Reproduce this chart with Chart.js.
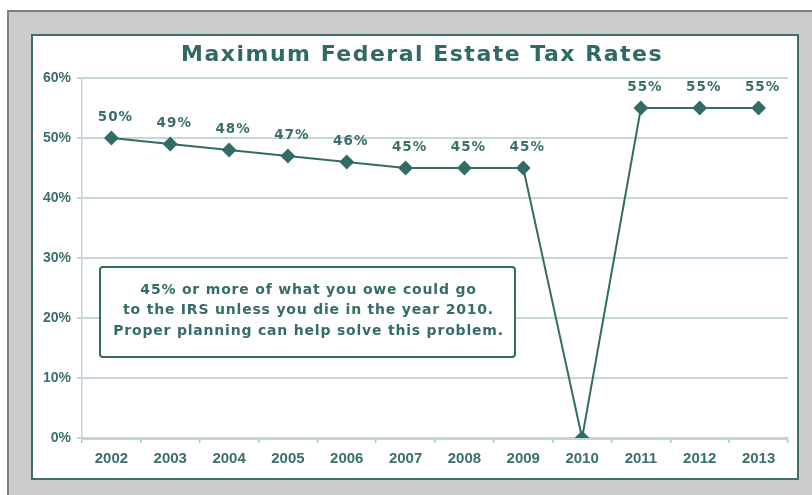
<!DOCTYPE html>
<html>
<head>
<meta charset="utf-8">
<script src="https://cdn.jsdelivr.net/npm/chart.js@4.4.1/dist/chart.umd.min.js"></script>
<style>
  html, body { margin: 0; padding: 0; background: #ffffff; }
  #wrap { width: 812px; height: 495px; position: relative; }
</style>
</head>
<body>
<div id="wrap"><canvas id="taxChart" width="812" height="495"></canvas></div>
<script>
const years = ['2002', '2003', '2004', '2005', '2006', '2007', '2008', '2009', '2010', '2011', '2012', '2013'];
const rates = [50, 49, 48, 47, 46, 45, 45, 45, 0, 55, 55, 55];
const yTicks = [0, 10, 20, 30, 40, 50, 60];
const chartTitle = 'Maximum Federal Estate Tax Rates';
const noteLines = [
    '45% or more of what you owe could go',
    'to the IRS unless you die in the year 2010.',
    'Proper planning can help solve this problem.'
];

const TEAL = '#336b67';
const FONT = "'Liberation Sans', Arial, sans-serif";
const WIDE = "'DejaVu Sans', Verdana, sans-serif";

// frame, title, value labels and the note box
const decorPlugin = {
    id: 'decor',
    beforeDraw(chart) {
        const ctx = chart.ctx;
        ctx.save();
        ctx.fillStyle = '#ffffff';
        ctx.fillRect(0, 0, 812, 495);
        // gray outer frame
        ctx.fillStyle = '#cccccc';
        ctx.fillRect(7, 10, 805, 485);
        ctx.strokeStyle = '#7f7f7f';
        ctx.lineWidth = 2;
        ctx.beginPath();
        ctx.moveTo(8, 495);
        ctx.lineTo(8, 11);
        ctx.lineTo(812, 11);
        ctx.stroke();
        // white panel
        ctx.fillStyle = '#ffffff';
        ctx.fillRect(32, 35, 766, 444);
        ctx.strokeStyle = '#3d706c';
        ctx.lineWidth = 2;
        ctx.strokeRect(32, 35, 766, 444);
        // title
        ctx.fillStyle = '#2f6a66';
        ctx.font = 'bold 22px ' + WIDE;
        ctx.letterSpacing = '1.5px';
        ctx.textAlign = 'center';
        ctx.textBaseline = 'middle';
        ctx.fillText(chartTitle, 422, 55);
        ctx.restore();
    },
    afterDatasetsDraw(chart) {
        const ctx = chart.ctx;
        const meta = chart.getDatasetMeta(0);
        const area = chart.chartArea;
        ctx.save();
        ctx.fillStyle = '#3a6f6b';
        ctx.font = 'bold 13.5px ' + WIDE;
        ctx.letterSpacing = '1px';
        ctx.textAlign = 'center';
        ctx.textBaseline = 'middle';
        meta.data.forEach((pt, i) => {
            if (rates[i] === 0) return;
            ctx.fillText(rates[i] + '%', pt.x + 4, pt.y - 21);
        });

        // note box
        const bx = area.left + 18, by = area.top + 189, bw = 415, bh = 90;
        ctx.fillStyle = '#ffffff';
        ctx.strokeStyle = TEAL;
        ctx.lineWidth = 2;
        ctx.beginPath();
        ctx.roundRect(bx, by, bw, bh, 3);
        ctx.fill();
        ctx.stroke();
        ctx.fillStyle = '#356c68';
        ctx.font = 'bold 14px ' + WIDE;
        ctx.letterSpacing = '0.8px';
        noteLines.forEach((line, i) => {
            ctx.fillText(line, bx + bw / 2 + 1, by + 23 + i * 20.5);
        });
        ctx.restore();
    }
};

new Chart(document.getElementById('taxChart'), {
    type: 'line',
    data: {
        labels: years,
        datasets: [{
            label: 'Maximum Rate',
            data: rates,
            borderColor: TEAL,
            backgroundColor: TEAL,
            borderWidth: 2,
            pointStyle: 'rectRot',
            pointRadius: 6,
            pointHoverRadius: 6,
            pointBackgroundColor: TEAL,
            pointBorderColor: TEAL,
            tension: 0
        }]
    },
    options: {
        responsive: false,
        animation: false,
        layout: { padding: { left: 32, right: 24, top: 78, bottom: 0 } },
        plugins: {
            legend: { display: false },
            title: { display: false },
            tooltip: { enabled: false }
        },
        scales: {
            x: {
                offset: true,
                afterFit(scale) { scale.height = 57; },
                grid: {
                    offset: true,
                    drawOnChartArea: false,
                    drawTicks: true,
                    tickLength: 5,
                    color: '#a9c0bf',
                    lineWidth: 1.5
                },
                border: { color: '#c3d6d5', width: 3 },
                ticks: {
                    color: '#3a6f6b',
                    padding: 7,
                    font: { family: FONT, size: 15, weight: 'bold' },
                    maxRotation: 0
                }
            },
            y: {
                min: yTicks[0],
                max: yTicks[yTicks.length - 1],
                afterFit(scale) { scale.width = 50; },
                afterBuildTicks(scale) { scale.ticks = yTicks.map(v => ({ value: v })); },
                grid: {
                    color: '#c5d8d6',
                    lineWidth: 2,
                    tickLength: 5
                },
                border: { color: '#c3d6d5', width: 1.5 },
                ticks: {
                    color: '#3a6f6b',
                    padding: 6,
                    font: { family: FONT, size: 14, weight: 'bold' },
                    callback: v => v + '%'
                }
            }
        }
    },
    plugins: [decorPlugin]
});
</script>
</body>
</html>
